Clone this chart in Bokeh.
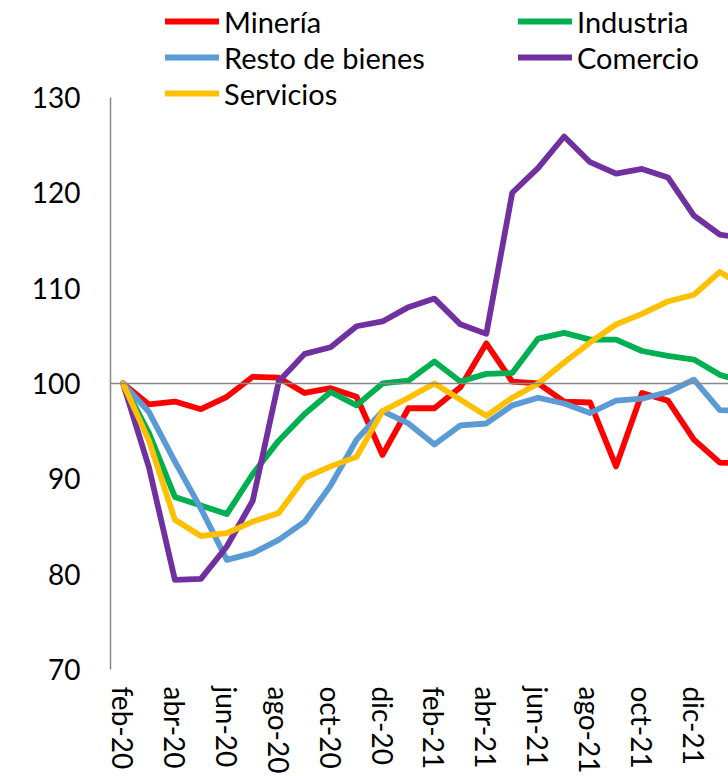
from bokeh.plotting import figure
from bokeh.models import Legend, LegendItem, Span, FixedTicker, Range1d
from bokeh.embed import file_html
from bokeh.resources import INLINE

months = ["feb-20", "mar-20", "abr-20", "may-20", "jun-20", "jul-20", "ago-20", "sep-20",
          "oct-20", "nov-20", "dic-20", "ene-21", "feb-21", "mar-21", "abr-21", "may-21",
          "jun-21", "jul-21", "ago-21", "sep-21", "oct-21", "nov-21", "dic-21", "ene-22", "feb-22"]

mineria = [100.0, 97.8, 98.1, 97.3, 98.6, 100.7, 100.6, 99.0, 99.5, 98.6, 92.5, 97.4, 97.4,
           99.6, 104.2, 100.2, 100.0, 98.1, 98.0, 91.3, 99.0, 98.2, 94.1, 91.7, 91.6]
industria = [100.0, 94.8, 88.1, 87.2, 86.3, 90.5, 94.0, 96.8, 99.1, 97.7, 100.0, 100.3, 102.3,
             100.2, 101.0, 101.1, 104.7, 105.3, 104.6, 104.6, 103.4, 102.9, 102.5, 100.9, 100.1]
resto = [100.0, 97.0, 91.8, 86.9, 81.5, 82.2, 83.6, 85.5, 89.3, 94.1, 97.1, 95.8, 93.6,
         95.6, 95.8, 97.7, 98.5, 97.9, 96.9, 98.2, 98.4, 99.1, 100.4, 97.2, 97.1]
comercio = [100.0, 91.2, 79.4, 79.5, 82.9, 87.7, 100.2, 103.1, 103.8, 106.0, 106.5, 108.0, 108.9,
            106.2, 105.2, 120.0, 122.6, 125.9, 123.2, 122.0, 122.5, 121.6, 117.6, 115.6, 115.2]
servicios = [100.0, 94.0, 85.7, 84.0, 84.3, 85.5, 86.4, 90.1, 91.3, 92.3, 97.1, 98.5, 100.0,
             98.3, 96.6, 98.5, 100.0, 102.2, 104.3, 106.2, 107.3, 108.6, 109.3, 111.7, 110.0]

series_names = ["Minería", "Industria", "Resto de bienes", "Comercio", "Servicios"]
series_colors = ["#FF0000", "#00B050", "#5B9BD5", "#7030A0", "#FFC000"]
y_ticks = [70, 80, 90, 100, 110, 120, 130]

FONT = "Lato"
x = list(range(len(months)))

p = figure(width=728, height=776, output_backend="svg", toolbar_location=None,
           x_range=Range1d(-0.482, 23.333), y_range=Range1d(70, 140.16),
           min_border_left=110, min_border_top=0, min_border_bottom=106, min_border_right=0)
p.outline_line_color = None
p.xgrid.visible = False
p.ygrid.visible = False
p.background_fill_color = "white"
p.border_fill_color = "white"

# horizontal reference (category axis crossing) at 100
p.add_layout(Span(location=100, dimension="width", line_color="#898989", line_width=1.5))

renderers = {}
for name, col, vals in zip(series_names, series_colors,
                           [mineria, industria, resto, comercio, servicios]):
    r = p.line(x, vals, line_color=col, line_width=5.8, line_join="round", line_cap="round")
    renderers[name] = r

# y axis
p.yaxis.ticker = FixedTicker(ticks=y_ticks)
p.yaxis.bounds = (70, 130)
p.yaxis.axis_line_color = "#898989"
p.yaxis.axis_line_width = 1.5
p.yaxis.major_tick_line_color = None
p.yaxis.minor_tick_line_color = None
p.yaxis.major_tick_out = 0
p.yaxis.major_label_standoff = 30
p.yaxis.major_label_text_font = FONT
p.yaxis.major_label_text_font_size = "28px"
p.yaxis.major_label_text_color = "black"

# x axis
tick_idx = list(range(0, len(months), 2))
p.xaxis.ticker = FixedTicker(ticks=tick_idx)
p.xaxis.major_label_overrides = {i: months[i] for i in tick_idx}
p.xaxis.major_label_orientation = "vertical"
p.xaxis.axis_line_color = None
p.xaxis.major_tick_line_color = None
p.xaxis.minor_tick_line_color = None
p.xaxis.major_tick_out = 0
p.xaxis.major_label_standoff = 17
p.xaxis.major_label_text_font = FONT
p.xaxis.major_label_text_font_size = "28px"
p.xaxis.major_label_text_color = "black"

def make_legend(names, loc):
    lg = Legend(items=[LegendItem(label=n, renderers=[renderers[n]]) for n in names],
                location=loc, orientation="vertical",
                padding=0, margin=0, spacing=0,
                glyph_width=54, glyph_height=36, label_height=36, label_standoff=5,
                label_text_font=FONT, label_text_font_size="29px", label_text_color="black",
                border_line_color=None, background_fill_alpha=0)
    return lg

p.add_layout(make_legend(["Minería", "Resto de bienes", "Servicios"], (55, 558)))
p.add_layout(make_legend(["Industria", "Comercio"], (408, 594)))

open("out.html", "w").write(file_html(p, INLINE))
